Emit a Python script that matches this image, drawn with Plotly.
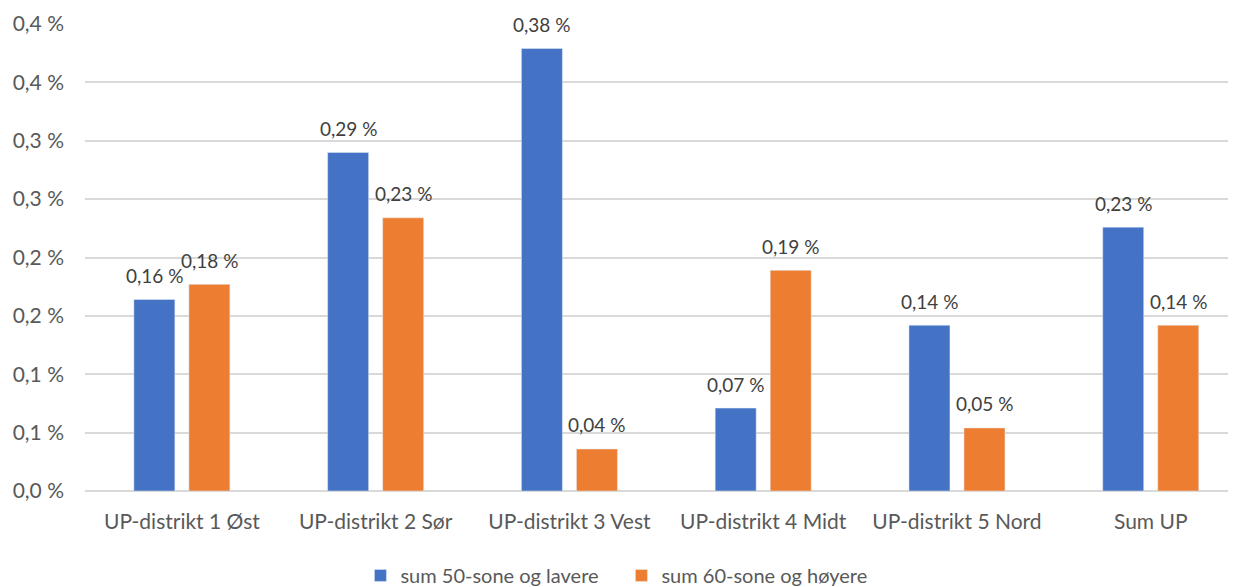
import plotly.graph_objects as go

categories = ["UP-distrikt 1 Øst", "UP-distrikt 2 Sør", "UP-distrikt 3 Vest",
              "UP-distrikt 4 Midt", "UP-distrikt 5 Nord", "Sum UP"]
sum_50 = [0.164, 0.290, 0.379, 0.071, 0.142, 0.226]
sum_60 = [0.177, 0.234, 0.036, 0.189, 0.054, 0.142]
series_names = ["sum 50-sone og lavere", "sum 60-sone og høyere"]
y_tickvals = [0.0, 0.05, 0.10, 0.15, 0.20, 0.25, 0.30, 0.35, 0.40]
y_ticktext = ["0,0 %", "0,1 %", "0,1 %", "0,2 %", "0,2 %", "0,3 %", "0,3 %", "0,4 %", "0,4 %"]

colors = ["#4472C4", "#ED7D31"]
FONT = "Lato"


def fmt(v):
    return f"{v:.2f}".replace(".", ",") + " %"


fig = go.Figure()
for name, vals, col in zip(series_names, [sum_50, sum_60], colors):
    fig.add_trace(go.Bar(
        x=categories, y=vals, name=name, marker_color=col,
        cliponaxis=False,
    ))

# data labels placed above each bar (offset to the bar's position in the group)
for vals, shift in zip([sum_50, sum_60], [-27.5, 27.5]):
    for cat, v in zip(categories, vals):
        fig.add_annotation(
            x=cat, y=v, xref="x", yref="y", text=fmt(v), showarrow=False,
            xshift=shift, yshift=24, yanchor="middle", xanchor="center",
            font=dict(family=FONT, size=19, color="#404040"),
        )

fig.update_layout(
    width=1228, height=579,
    margin=dict(l=77, r=0, t=16, b=96, autoexpand=False),
    paper_bgcolor="white", plot_bgcolor="white",
    barmode="group", bargap=0.432, bargroupgap=0.255,
    font=dict(family=FONT, size=20, color="#595959"),
    showlegend=True,
    legend=dict(orientation="h", xref="container", x=0.287, xanchor="left",
                yref="container", y=0.02, yanchor="middle",
                font=dict(family=FONT, size=20, color="#595959"),
                itemwidth=30, entrywidth=216, entrywidthmode="pixels",
                traceorder="normal"),
    xaxis=dict(range=[-0.5, 5.44], showgrid=False, showline=False, ticks="",
               automargin=False, ticklabelstandoff=16,
               tickfont=dict(family=FONT, size=21, color="#595959")),
    yaxis=dict(range=[0, 0.4], tickvals=y_tickvals, ticktext=y_ticktext,
               showgrid=True, gridcolor="#D9D9D9", gridwidth=1.5,
               zeroline=True, zerolinecolor="#D9D9D9", zerolinewidth=1.5,
               showline=False, ticks="", ticklabelstandoff=20, automargin=False,
               tickfont=dict(family=FONT, size=21, color="#595959")),
)

fig.write_html("out.html")
